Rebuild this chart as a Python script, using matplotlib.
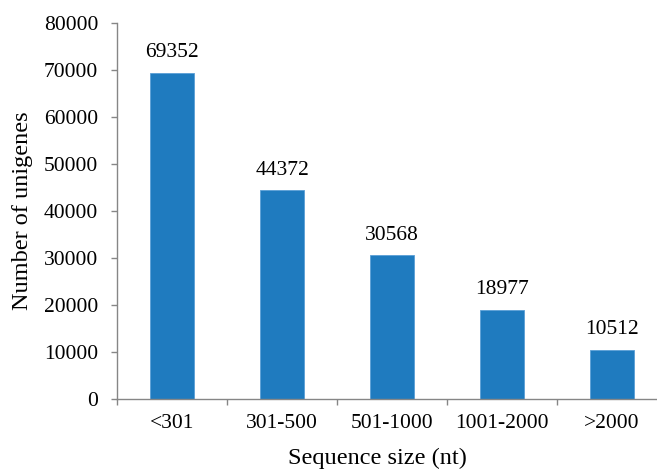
import matplotlib
matplotlib.use("Agg")
import matplotlib.pyplot as plt
import numpy as np

categories = ["<301", "301-500", "501-1000", "1001-2000", ">2000"]
values = [69352, 44372, 30568, 18977, 10512]
yticks = [0, 10000, 20000, 30000, 40000, 50000, 60000, 70000, 80000]

plt.rcParams['font.family'] = ['Liberation Serif', 'DejaVu Serif']

fig = plt.figure(figsize=(6.57, 4.71), dpi=100)
ax = fig.add_axes([117/657, 1-399/471, 550/657, (399-23)/471])

x = np.arange(len(categories))
ax.bar(x, values, width=0.4, color='#1f7bbf', edgecolor='#5a9fd6', linewidth=0.6, zorder=2)
for xi, v in zip(x, values):
    ax.text(xi, v + 2300, str(v), ha='center', va='bottom', fontsize=15.5, color='black')

ax.set_xlim(-0.5, len(categories) - 0.5)
ax.set_ylim(0, 80000)
ax.set_yticks(yticks)
ax.set_yticklabels([str(t) for t in yticks], fontsize=15.5)
ax.set_xticks(x)
ax.set_xticklabels(categories, fontsize=15.5)
ax.set_xticks(np.arange(-0.5, len(categories), 1.0), minor=True)
ax.tick_params(axis='x', which='major', length=0, pad=11)
ax.tick_params(axis='x', which='minor', length=4.5, color='#868686', width=1)
ax.tick_params(axis='y', length=4.5, color='#868686', width=1, pad=9)

for s in ['top', 'right']:
    ax.spines[s].set_visible(False)
for s in ['left', 'bottom']:
    ax.spines[s].set_color('#868686')
    ax.spines[s].set_linewidth(1)

fig.text(23/657, 1-211/471, "Number of unigenes", fontsize=17.5, rotation=90,
         ha='center', va='center')
fig.text(377/657, 1-458/471, "Sequence size (nt)", fontsize=17.5, ha='center', va='center')

fig.savefig("out.png", dpi=100)
